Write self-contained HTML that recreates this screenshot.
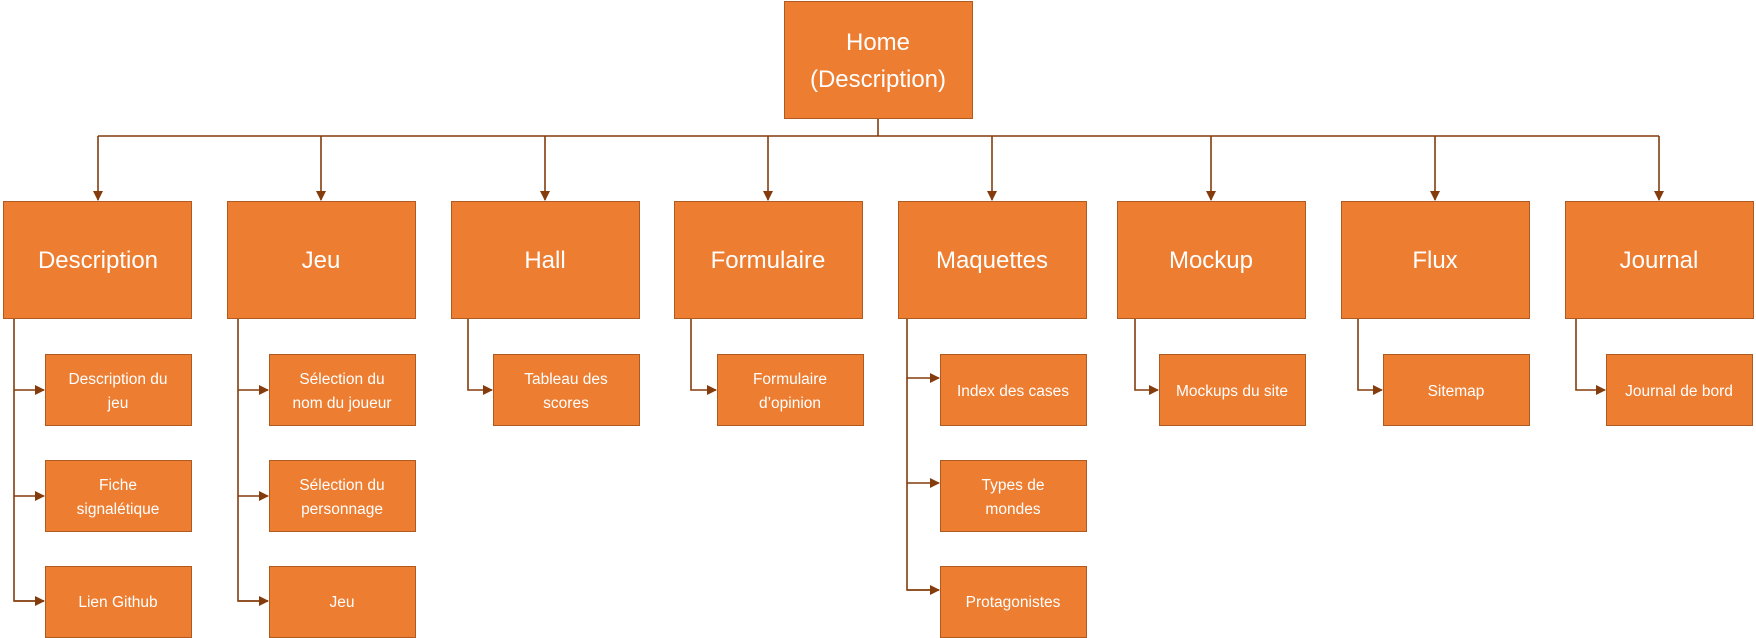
<!DOCTYPE html>
<html><head><meta charset="utf-8"><style>
html,body{margin:0;padding:0;background:#fff;width:1756px;height:638px;overflow:hidden}
svg text{font-family:"Liberation Sans",sans-serif;fill:#fff;text-anchor:middle}
</style></head><body>
<svg width="1756" height="638" viewBox="0 0 1756 638" xmlns="http://www.w3.org/2000/svg">
<defs><marker id="a" markerWidth="10" markerHeight="10" refX="9" refY="5" orient="auto" markerUnits="userSpaceOnUse"><path d="M0,0 L10,5 L0,10 z" fill="#843C0C"/></marker></defs>
<g stroke="#843C0C" stroke-width="1.6" fill="none">
<line x1="878" y1="118" x2="878" y2="136"/>
<line x1="98" y1="136" x2="1659" y2="136"/>
<line x1="98" y1="136" x2="98" y2="200" marker-end="url(#a)"/>
<line x1="321" y1="136" x2="321" y2="200" marker-end="url(#a)"/>
<line x1="545" y1="136" x2="545" y2="200" marker-end="url(#a)"/>
<line x1="768" y1="136" x2="768" y2="200" marker-end="url(#a)"/>
<line x1="992" y1="136" x2="992" y2="200" marker-end="url(#a)"/>
<line x1="1211" y1="136" x2="1211" y2="200" marker-end="url(#a)"/>
<line x1="1435" y1="136" x2="1435" y2="200" marker-end="url(#a)"/>
<line x1="1659" y1="136" x2="1659" y2="200" marker-end="url(#a)"/>
<!-- Description -->
<path d="M14,318 V601 H44"/><path d="M14,390 H44" marker-end="url(#a)"/><path d="M14,496 H44" marker-end="url(#a)"/><path d="M14,601 H44" marker-end="url(#a)"/>
<!-- Jeu -->
<path d="M238,318 V601 H268"/><path d="M238,390 H268" marker-end="url(#a)"/><path d="M238,496 H268" marker-end="url(#a)"/><path d="M238,601 H268" marker-end="url(#a)"/>
<!-- Hall -->
<path d="M468,318 V390 H492" marker-end="url(#a)"/>
<path d="M691,318 V390 H716" marker-end="url(#a)"/>
<!-- Maquettes -->
<path d="M907,318 V590 H939"/><path d="M907,378 H939" marker-end="url(#a)"/><path d="M907,483 H939" marker-end="url(#a)"/><path d="M907,590 H939" marker-end="url(#a)"/>
<path d="M1135,318 V390 H1158" marker-end="url(#a)"/>
<path d="M1358,318 V390 H1382" marker-end="url(#a)"/>
<path d="M1576,318 V390 H1605" marker-end="url(#a)"/>
</g>
<g fill="#ED7D31" stroke="#AE5A21" stroke-width="1">
<rect x="784.5" y="1.5" width="188" height="117"/>
<rect x="3.5" y="201.5" width="188" height="117"/>
<rect x="227.5" y="201.5" width="188" height="117"/>
<rect x="451.5" y="201.5" width="188" height="117"/>
<rect x="674.5" y="201.5" width="188" height="117"/>
<rect x="898.5" y="201.5" width="188" height="117"/>
<rect x="1117.5" y="201.5" width="188" height="117"/>
<rect x="1341.5" y="201.5" width="188" height="117"/>
<rect x="1565.5" y="201.5" width="188" height="117"/>
<rect x="45.5" y="354.5" width="146" height="71"/>
<rect x="45.5" y="460.5" width="146" height="71"/>
<rect x="45.5" y="566.5" width="146" height="71"/>
<rect x="269.5" y="354.5" width="146" height="71"/>
<rect x="269.5" y="460.5" width="146" height="71"/>
<rect x="269.5" y="566.5" width="146" height="71"/>
<rect x="493.5" y="354.5" width="146" height="71"/>
<rect x="717.5" y="354.5" width="146" height="71"/>
<rect x="940.5" y="354.5" width="146" height="71"/>
<rect x="940.5" y="460.5" width="146" height="71"/>
<rect x="940.5" y="566.5" width="146" height="71"/>
<rect x="1159.5" y="354.5" width="146" height="71"/>
<rect x="1383.5" y="354.5" width="146" height="71"/>
<rect x="1606.5" y="354.5" width="146" height="71"/>
</g>
<g font-size="24">
<text x="878" y="50">Home</text><text x="878" y="87">(Description)</text>
</g>
<g font-size="24">
<text x="98" y="268">Description</text>
<text x="321" y="268">Jeu</text>
<text x="545" y="268">Hall</text>
<text x="768" y="268">Formulaire</text>
<text x="992" y="268">Maquettes</text>
<text x="1211" y="268">Mockup</text>
<text x="1435" y="268">Flux</text>
<text x="1659" y="268">Journal</text>
</g>
<g font-size="15.5">
<text x="118" y="384">Description du</text><text x="118" y="408">jeu</text>
<text x="118" y="490">Fiche</text><text x="118" y="514">signalétique</text>
<text x="118" y="607">Lien Github</text>
<text x="342" y="384">Sélection du</text><text x="342" y="408">nom du joueur</text>
<text x="342" y="490">Sélection du</text><text x="342" y="514">personnage</text>
<text x="342" y="607">Jeu</text>
<text x="566" y="384">Tableau des</text><text x="566" y="408">scores</text>
<text x="790" y="384">Formulaire</text><text x="790" y="408">d’opinion</text>
<text x="1013" y="396">Index des cases</text>
<text x="1013" y="490">Types de</text><text x="1013" y="514">mondes</text>
<text x="1013" y="607">Protagonistes</text>
<text x="1232" y="396">Mockups du site</text>
<text x="1456" y="396">Sitemap</text>
<text x="1679" y="396">Journal de bord</text>
</g>
</svg>
</body></html>
